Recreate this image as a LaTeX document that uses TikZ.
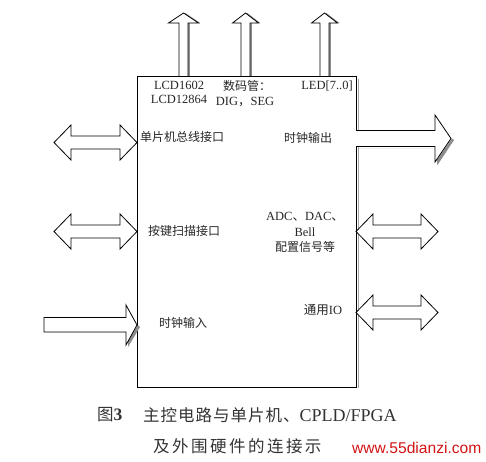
\documentclass[tikz,border=0pt]{standalone}
\usepackage{fontspec}
\setmainfont{Liberation Serif}
\newfontfamily\cjk{Noto Sans CJK SC}
\newfontfamily\cjkcapa[LetterSpace=6]{Noto Sans CJK SC}
\newfontfamily\cjkcapb[LetterSpace=15]{Noto Sans CJK SC}
\newfontfamily\wmfont{Liberation Sans}
\tikzset{
  arrowline/.style={draw=black, line width=0.8pt, fill=white, line join=miter},
  shadowline/.style={fill=black!45, draw=none},
  lbl/.style={font=\fontsize{12.5}{15}\selectfont, text=black!85, inner sep=0pt},
  clbl/.style={font=\cjk\fontsize{12}{15}\selectfont, text=black!85, inner sep=0pt},
  captext/.style={font=\cjkcapa\fontsize{16.5}{20}\selectfont, text=black!80, inner sep=0pt, anchor=west},
}
% double arrow: x1, x2, yc
\newcommand\dblarrow[3]{%
  \draw[arrowline] (#1,#3) -- (#1+17,#3-17.5) -- (#1+17,#3-6.5) -- (#2-17,#3-6.5)
    -- (#2-17,#3-17.5) -- (#2,#3) -- (#2-17,#3+17.5) -- (#2-17,#3+6.5)
    -- (#1+17,#3+6.5) -- (#1+17,#3+17.5) -- cycle;}
% up arrow: xc, bottom y, tip y, head half width
\newcommand\uparrowshape[4]{%
  (#1-4.5,#2) -- (#1-4.5,#3+10) -- (#1-#4,#3+10) -- (#1,#3) -- (#1+#4,#3+10)
    -- (#1+4.5,#3+10) -- (#1+4.5,#2)}
\begin{document}
\begin{tikzpicture}[x=1pt,y=-1pt]
\useasboundingbox (0,0) rectangle (486,461);
% top arrows (shadow + arrow)
\foreach \xc/\hw in {183.5/15, 245.5/13, 324.5/13}{
  \fill[shadowline] [shift={(1.8,0)}] \uparrowshape{\xc}{76}{13}{\hw} -- cycle;
  \draw[arrowline] \uparrowshape{\xc}{76.5}{13}{\hw};
}
% main box
\node[draw=black, line width=0.9pt, minimum width=219pt, minimum height=311pt,
      inner sep=0pt, anchor=north west, fill=none] (box) at (137,76) {};
\draw[black!35, line width=0.6pt] ([xshift=1.5pt,yshift=-3pt]box.north east) -- ([xshift=1.5pt]box.south east);
% left double arrows
\dblarrow{54}{137}{142.5}
\dblarrow{54}{137}{231.5}
% right double arrows
\dblarrow{356}{438}{231.5}
\dblarrow{356}{438}{312.5}
% clock output arrow
\fill[shadowline] (358,148) -- (437,148) -- (437,164) -- (453,140.5) -- (437,164) -- (437.5,165) -- (454,140) -- (452,138.5) -- (437,160) -- (437,148) -- cycle;
\draw[arrowline] (356,130.5) -- (435,130.5) -- (435,115) -- (451,138.5) -- (435,162) -- (435,146.5) -- (356,146.5);
% clock input arrow
\fill[shadowline] (46,332) -- (128,332) -- (128,347) -- (140,327) -- (138,325) -- (126,343) -- (126,332) -- cycle;
\draw[arrowline] (137,325) -- (126,305) -- (126,317.5) -- (44,317.5) -- (44,332) -- (126,332) -- (126,345) -- cycle;
% labels
\node[lbl] (l1) at (179,85) {LCD1602};
\node[lbl] (l2) at (179,99.5) {LCD12864};
\node[clbl] (l3) at (247,86) {数码管：};
\node[lbl] (l4) at (245,102) {DIG{\cjk ，}SEG};
\node[lbl] (l5) at (327,86) {LED[7..0]};
\node[clbl] (l6) at (182,137) {单片机总线接口};
\node[clbl] (l7) at (308,138) {时钟输出};
\node[clbl] (l8) at (184,231) {按键扫描接口};
\node[lbl] (l9) at (305,217) {ADC{\cjk 、}DAC{\cjk 、}};
\node[lbl] (l10) at (305,232) {Bell};
\node[clbl] (l11) at (305,247) {配置信号等};
\node[lbl] (l12) at (323,310) {{\cjk 通用}IO};
\node[clbl] (l13) at (183,323) {时钟输入};
% caption
\node[captext] (c1) at (97,415) {图{\rmfamily\bfseries\fontsize{17.5}{20}\selectfont 3}};
\node[captext] (c2) at (143,415) {主控电路与单片机、{\rmfamily\fontsize{18}{20}\selectfont CPLD/FPGA}};
\node[captext, font=\cjkcapb\fontsize{16.5}{20}\selectfont] (c3) at (153,446) {及外围硬件的连接示};
\node[font=\wmfont\fontsize{15.6}{18}\selectfont, text={rgb,255:red,210;green,20;blue,20}, inner sep=0pt, anchor=west] (wm) at (352,448) {www.55dianzi.com};
\end{tikzpicture}
\end{document}
